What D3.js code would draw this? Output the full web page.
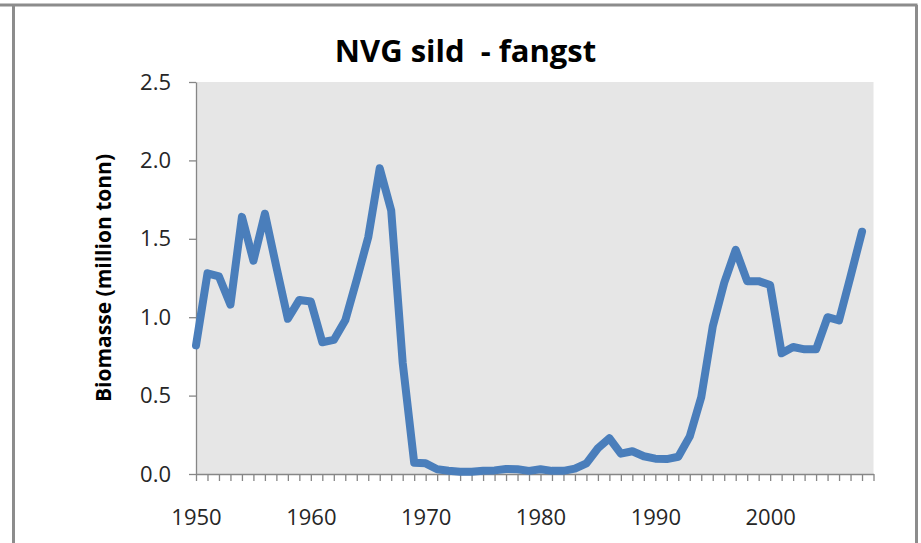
<!DOCTYPE html>
<html>
<head>
<meta charset="utf-8">
<script src="https://cdn.jsdelivr.net/npm/d3@7"></script>
<style>
  html, body { margin: 0; padding: 0; background: #ffffff; }
  svg { display: block; font-family: "Open Sans", "Liberation Sans", sans-serif; }
</style>
</head>
<body>
<div id="chart"></div>
<script>
// Fangst av norsk vårgytende sild (million tonn), 1950-2008
var years = d3.range(1950, 2009);
var catches = [
	0.82, 1.28, 1.26, 1.08, 1.64, 1.36, 1.66, 1.32, 0.99, 1.11,
	1.10, 0.84, 0.855, 0.98, 1.24, 1.51, 1.95, 1.68, 0.71, 0.072,
	0.068, 0.03, 0.021, 0.015, 0.015, 0.02, 0.023, 0.032, 0.03, 0.02,
	0.03, 0.02, 0.02, 0.034, 0.068, 0.164, 0.228, 0.13, 0.145, 0.113,
	0.098, 0.095, 0.11, 0.24, 0.49, 0.94, 1.22, 1.43, 1.23, 1.23,
	1.205, 0.77, 0.81, 0.795, 0.795, 1.00, 0.98, 1.26, 1.545
];
var yTicks = [0, 0.5, 1.0, 1.5, 2.0, 2.5];
var xLabels = [1950, 1960, 1970, 1980, 1990, 2000];

var title = "NVG sild  - fangst";
var yTitle = "Biomasse (million tonn)";

var width = 921, height = 543;
var plot = {left: 196, right: 873.5, top: 82, bottom: 474};
var fontFamily = '"Open Sans", "Liberation Sans", sans-serif';

var svg = d3.select("#chart").append("svg")
	.attr("width", width)
	.attr("height", height);

// outer frame (cropped chart border)
var frame = svg.append("g")
	.attr("fill", "none")
	.attr("stroke", "#8c8c8c")
	.attr("stroke-width", 3);
frame.append("line").attr("x1", 0).attr("x2", 917.5).attr("y1", 5).attr("y2", 5);
frame.append("line").attr("x1", 13.5).attr("x2", 13.5).attr("y1", 5).attr("y2", height);
frame.append("line").attr("x1", 916.5).attr("x2", 916.5).attr("y1", 5).attr("y2", height);

var x = d3.scaleLinear()
	.domain([1950, 2009])
	.range([plot.left, plot.right]);

var y = d3.scaleLinear()
	.domain([0, 2.5])
	.range([plot.bottom, plot.top]);

// plot area
svg.append("rect")
	.attr("x", plot.left)
	.attr("y", plot.top)
	.attr("width", plot.right - plot.left)
	.attr("height", plot.bottom - plot.top)
	.attr("fill", "#e6e6e6");

// y axis
svg.append("g")
	.attr("transform", "translate(" + plot.left + ",0)")
	.call(d3.axisLeft(y)
		.tickValues(yTicks)
		.tickFormat(d3.format(".1f"))
		.tickSize(7)
		.tickSizeOuter(0)
		.tickPadding(18));

// x axis
svg.append("g")
	.attr("transform", "translate(0," + plot.bottom + ")")
	.call(d3.axisBottom(x)
		.tickValues(d3.range(1950, 2010))
		.tickFormat(function(d) { return xLabels.indexOf(d) >= 0 ? d : ""; })
		.tickSize(7)
		.tickSizeOuter(0)
		.tickPadding(28));

svg.selectAll(".domain, .tick line")
	.attr("stroke", "#868686")
	.attr("stroke-width", 1.3);
svg.selectAll(".tick text")
	.attr("fill", "#262626")
	.style("font-family", fontFamily)
	.style("font-size", "22px");

// line
var line = d3.line()
	.x(function(d, i) { return x(years[i]); })
	.y(function(d) { return y(d); });

svg.append("path")
	.datum(catches)
	.attr("d", line)
	.attr("fill", "none")
	.attr("stroke", "#4a7ebb")
	.attr("stroke-width", 8)
	.attr("stroke-linejoin", "round")
	.attr("stroke-linecap", "round");

// titles
svg.append("text")
	.attr("x", 465.5)
	.attr("y", 62)
	.attr("text-anchor", "middle")
	.style("font-size", "31px")
	.style("font-weight", "bold")
	.style("white-space", "pre")
	.attr("fill", "#000")
	.text(title);

svg.append("text")
	.attr("transform", "translate(111,278) rotate(-90)")
	.attr("text-anchor", "middle")
	.style("font-size", "21px")
	.style("font-weight", "bold")
	.attr("fill", "#000")
	.text(yTitle);
</script>
</body>
</html>
